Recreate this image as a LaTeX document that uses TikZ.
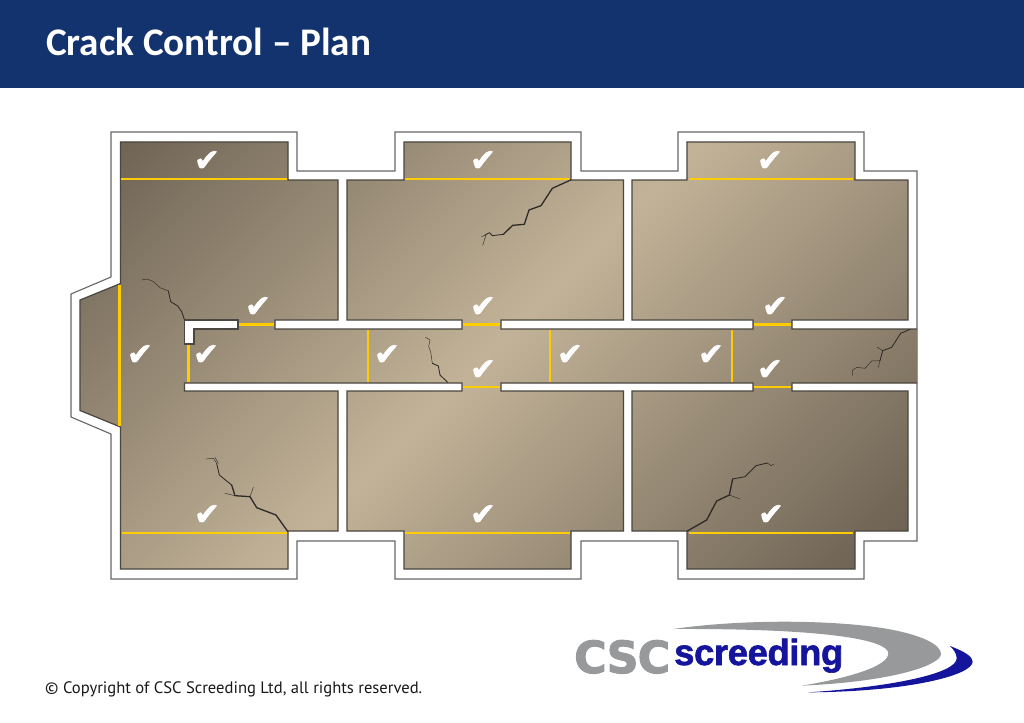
\documentclass[tikz,border=0pt]{standalone}
\usepackage{graphicx}
\usepackage{fontspec}
\setmainfont{PT Sans}
\newfontfamily\ttl{Carlito}
\newfontfamily\chk[FakeBold=1.8]{DejaVu Sans}
\newfontfamily\logofont[BoldFeatures={FakeBold=2.2,LetterSpace=-2}]{DejaVu Sans}
\newfontfamily\scrfont[BoldFeatures={FakeBold=1.6,LetterSpace=-1}]{Liberation Sans}
\definecolor{hdr}{HTML}{13336F}
\definecolor{flrd}{HTML}{695E50}
\definecolor{flrl}{HTML}{C2B398}
\definecolor{wallc}{HTML}{4A4640}
\definecolor{yel}{HTML}{FFCC00}
\definecolor{crk}{HTML}{2E2A28}
\definecolor{lgrey}{HTML}{97999B}
\definecolor{lblue}{HTML}{14149C}
\tikzset{
  wall/.style={draw=wallc,line width=1.2pt,line join=miter},
  outerline/.style={draw=black!60,line width=1.1pt,fill=white},
  joint/.style={draw=yel,line width=2.6pt},
  ck/.style={text=white,inner sep=0pt,font=\chk\fontsize{31}{31}\selectfont},
  crk1/.style={draw=crk,line width=1.3pt,line join=round,line cap=round},
  crk2/.style={draw=crk,line width=.85pt,line join=round,line cap=round},
  crk3/.style={draw=crk,line width=.45pt,line join=round,line cap=round},
}
\def\floorpath{(917,383) -- (792,383) -- (792,391) -- (908,391) -- (908,531) -- (855,531) -- (855,569) -- (687,569) -- (687,531) -- (632,531) -- (632,391) -- (753,391) -- (753,383) -- (501,383) -- (501,391) -- (623.5,391) -- (623.5,531) -- (571,531) -- (571,569) -- (404,569) -- (404,531) -- (347,531) -- (347,391) -- (462,391) -- (462,383) -- (184.5,383) -- (184.5,391) -- (338,391) -- (338,531) -- (288,531) -- (288,569) -- (120.5,569) -- (120.5,427) -- (80,410.5) -- (80,300) -- (120.5,283.5) -- (120.5,142) -- (288,142) -- (288,180) -- (338,180) -- (338,320) -- (275,320) -- (275,329) -- (462,329) -- (462,320) -- (347,320) -- (347,180) -- (404,180) -- (404,142) -- (571,142) -- (571,180) -- (623.5,180) -- (623.5,320) -- (501,320) -- (501,329) -- (753,329) -- (753,320) -- (632,320) -- (632,180) -- (687,180) -- (687,142) -- (855,142) -- (855,180) -- (908,180) -- (908,320) -- (792,320) -- (792,329) -- (917,329)}
\begin{document}
\begin{tikzpicture}[x=1pt,y=-1pt]
\useasboundingbox (0,0) rectangle (1024,722);
\fill[white] (0,0) rectangle (1024,722);
% header
\fill[hdr] (0,0) rectangle (1024,88);
\node[anchor=base west,inner sep=0pt,text=white] (title) at (46,55.5) {\resizebox{325pt}{!}{\ttl\fontsize{36}{36}\selectfont\bfseries Crack Control – Plan}};
% outer band
\path[outerline] (111,132) -- (297,132) -- (297,171) -- (395,171) -- (395,132) -- (581,132) -- (581,171) -- (678,171) -- (678,132) -- (864,132) -- (864,171) -- (917,171) -- (917,329) -- (917,383) -- (917,541) -- (864,541) -- (864,579) -- (678,579) -- (678,541) -- (581,541) -- (581,579) -- (395,579) -- (395,541) -- (297,541) -- (297,579) -- (111,579) -- (111,434) -- (71,417) -- (71,294) -- (111,277) -- cycle;
% floor
\begin{scope}
\clip \floorpath -- cycle;
\begin{scope}[transform canvas={shift={(550pt,-291pt)},rotate=-45}]
\shade[left color=flrd,right color=flrd,middle color=flrl] (-440,-800) rectangle (440,800);
\end{scope}
\end{scope}
\draw[wall] \floorpath;
% wall stub
\draw[wall,fill=white] (184.5,320) -- (238,320) -- (238,329) -- (194,329) -- (194,344) -- (184.5,344) -- cycle;
% joints
\draw[joint] (121,179) -- (287,179);
\draw[joint] (405,179) -- (570,179);
\draw[joint] (689,179) -- (853,179);
\draw[joint] (239,324.5) -- (274,324.5);
\draw[joint] (463,324.5) -- (500,324.5);
\draw[joint] (754,324.5) -- (791,324.5);
\draw[joint] (463,387) -- (500,387);
\draw[joint] (754,387) -- (791,387);
\draw[joint] (119.7,285) -- (119.7,426);
\draw[joint] (188.5,345) -- (188.5,382);
\draw[joint] (368,330) -- (368,382);
\draw[joint] (550,330) -- (550,382);
\draw[joint] (732,330) -- (732,382);
\draw[joint] (122,533) -- (287,533);
\draw[joint] (405,533) -- (570,533);
\draw[joint] (689,533) -- (853,533);
% cracks
\begin{scope}[shift={(60,120)},scale=1/3]
\draw[crk2] (373,598) -- (365,575) -- (353,558) -- (332,545) -- (325,513);
\draw[crk3] (325,513) -- (300,503) -- (280,485) -- (262,477) -- (245,480);
\end{scope}
\begin{scope}[shift={(60,340)},scale=1/3]
\draw[crk1] (683,574) -- (648,525) -- (590,503) -- (570,470) -- (525,467) -- (515,435);
\draw[crk2] (515,435) -- (478,405) -- (470,370);
\draw[crk3] (470,370) -- (460,355) -- (438,357);
\draw[crk3] (475,370) -- (465,352);
\draw[crk3] (570,470) -- (580,442);
\draw[crk3] (525,467) -- (495,460);
\end{scope}
\begin{scope}[shift={(380,120)},scale=1/3]
\draw[crk1] (572,180) -- (517,205) -- (483,257) -- (447,270) -- (433,313) -- (398,316) -- (370,343);
\draw[crk2] (370,343) -- (337,347) -- (328,338) -- (315,345);
\draw[crk3] (315,345) -- (305,350);
\draw[crk3] (318,345) -- (308,376);
\draw[crk2] (203,787) -- (180,765) -- (175,738) -- (157,730);
\draw[crk3] (157,730) -- (152,695) -- (146,680) -- (150,660) -- (137,652);
\end{scope}
\begin{scope}[shift={(660,290)},scale=1/3]
\draw[crk2] (750,118) -- (722,130) -- (695,172) -- (668,182) -- (660,212);
\draw[crk3] (660,212) -- (635,213) -- (615,235) -- (590,232) -- (578,240) -- (577,256);
\draw[crk3] (668,182) -- (652,172);
\draw[crk3] (660,212) -- (655,232);
\draw[crk1] (82,723) -- (140,690) -- (170,633) -- (208,615) -- (218,567);
\draw[crk2] (218,567) -- (255,560) -- (288,527) -- (322,519);
\draw[crk3] (322,519) -- (333,527) -- (342,522);
\draw[crk3] (208,615) -- (240,627);
\end{scope}
% checks
\node[ck] (c1) at (207,161) {✔};
\node[ck] (c2) at (483,161) {✔};
\node[ck] (c3) at (770,161) {✔};
\node[ck] (c4) at (258,307) {✔};
\node[ck] (c5) at (483,307) {✔};
\node[ck] (c6) at (775,307) {✔};
\node[ck] (c7) at (140,355) {✔};
\node[ck] (c8) at (206,355) {✔};
\node[ck] (c9) at (387,355) {✔};
\node[ck] (c10) at (483,370) {✔};
\node[ck] (c11) at (570,355) {✔};
\node[ck] (c12) at (711,355) {✔};
\node[ck] (c13) at (770,370) {✔};
\node[ck] (c14) at (207,515) {✔};
\node[ck] (c15) at (483,515) {✔};
\node[ck] (c16) at (771,515) {✔};
% copyright
\node[anchor=base west,inner sep=0pt,text=black!90] (copy) at (45,693) {\resizebox{377pt}{!}{\fontsize{15}{15}\selectfont © Copyright of CSC Screeding Ltd, all rights reserved.}};
% logo
\begin{scope}[shift={(560,610)},scale=1/3]
\fill[lgrey] (340,57) .. controls (560,25) and (850,30) .. (1000,60) .. controls (1090,78) and (1143,105) .. (1143,132) .. controls (1143,165) and (1000,215) .. (725,227) .. controls (860,205) and (985,170) .. (985,130) .. controls (985,90) and (800,55) .. (340,57) -- cycle;
\fill[lblue] (1170,108) .. controls (1215,125) and (1238,140) .. (1238,155) .. controls (1238,195) and (1050,245) .. (745,247) .. controls (1000,230) and (1190,190) .. (1190,145) .. controls (1190,130) and (1180,118) .. (1170,108) -- cycle;
\end{scope}
\node[anchor=base west,inner sep=0pt,text=lgrey] (csc) at (574,673) {\resizebox{96pt}{!}{\logofont\bfseries CSC}};
\node[anchor=base west,inner sep=0pt,text=lblue] (scr) at (674,665) {\resizebox{169pt}{!}{\scrfont\bfseries screeding}};
\end{tikzpicture}
\end{document}
